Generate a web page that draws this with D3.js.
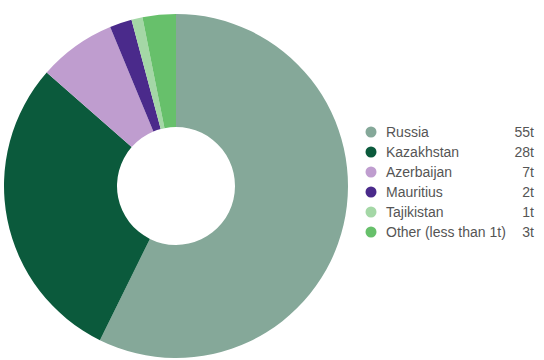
<!DOCTYPE html>
<html>
<head>
<meta charset="utf-8">
<script src="https://cdn.jsdelivr.net/npm/d3@7"></script>
<style>
  body { margin: 0; background: #fff; }
  svg { display: block; font-family: "Liberation Sans", Arial, sans-serif; }
</style>
</head>
<body>
<div id="chart"></div>
<script>
const countries = ["Russia", "Kazakhstan", "Azerbaijan", "Mauritius", "Tajikistan", "Other (less than 1t)"];
const tonnes = [55, 28, 7, 2, 1, 3];
const valueLabels = ["55t", "28t", "7t", "2t", "1t", "3t"];
const colors = ["#85a899", "#0b5a3c", "#bf9dcf", "#4a2a8b", "#a4d7a6", "#67c06b"];

const width = 544, height = 360;
const cx = 176, cy = 186, outerR = 172, innerR = 59;

const svg = d3.select("#chart").append("svg")
  .attr("width", width)
  .attr("height", height);

const data = countries.map((c, i) => ({ name: c, value: tonnes[i], label: valueLabels[i], color: colors[i] }));

const pie = d3.pie().value(d => d.value).sort(null);
const arc = d3.arc().innerRadius(innerR).outerRadius(outerR);

svg.append("g")
  .attr("transform", `translate(${cx},${cy})`)
  .selectAll("path")
  .data(pie(data))
  .enter().append("path")
  .attr("d", arc)
  .attr("fill", d => d.data.color);

// legend
const y = d3.scaleBand().domain(countries).range([122, 242]);
const legend = svg.append("g");
const rows = legend.selectAll("g")
  .data(data)
  .enter().append("g")
  .attr("transform", d => `translate(0,${y(d.name) + y.bandwidth() / 2})`);

rows.append("circle")
  .attr("cx", 371)
  .attr("r", 5.5)
  .attr("fill", d => d.color);

rows.append("text")
  .attr("x", 386)
  .attr("dy", "0.35em")
  .attr("font-size", 14)
  .attr("fill", "#555")
  .text(d => d.name);

rows.append("text")
  .attr("x", 534)
  .attr("dy", "0.35em")
  .attr("text-anchor", "end")
  .attr("font-size", 14)
  .attr("fill", "#555")
  .text(d => d.label);
</script>
</body>
</html>
